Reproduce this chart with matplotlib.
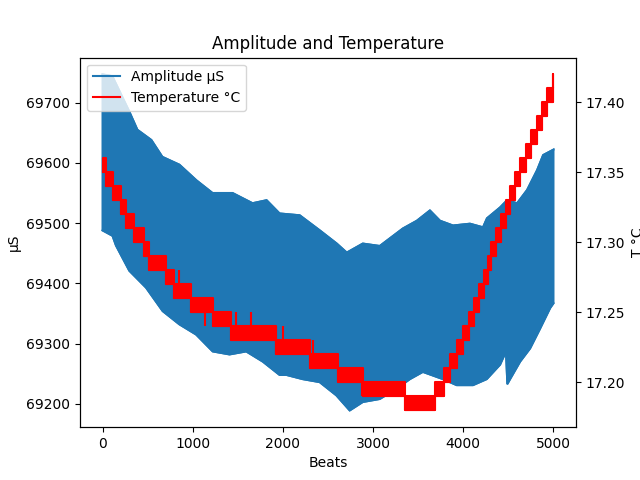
import matplotlib.pyplot as plt

# amplitude band: upper and lower edge
amp_top_beats = [0, 108, 297, 386, 541, 663, 852, 1041, 1219, 1441, 1663, 1819, 1963, 2186,
                 2408, 2597, 2708, 2886, 3074, 3330, 3486, 3630, 3741, 3886, 4074, 4219,
                 4263, 4408, 4486, 4597, 4708, 4819, 4886, 5000]
amp_top = [69747, 69744, 69685, 69655, 69638, 69610, 69597, 69571, 69550, 69550, 69533, 69538,
           69516, 69513, 69488, 69466, 69451, 69466, 69462, 69491, 69504, 69521, 69504, 69496,
           69499, 69493, 69508, 69526, 69538, 69533, 69555, 69588, 69613, 69622]
amp_bot_beats = [0, 111, 149, 297, 482, 667, 852, 1038, 1222, 1408, 1593, 1778, 1963, 2038,
                 2219, 2408, 2593, 2741, 2886, 3074, 3260, 3408, 3552, 3774, 3927, 4108, 4260,
                 4408, 4474, 4489, 4519, 4630, 4741, 4852, 4963, 5000]
amp_bot = [69488, 69479, 69463, 69421, 69393, 69354, 69332, 69315, 69287, 69282, 69287, 69270,
           69248, 69248, 69241, 69236, 69214, 69189, 69203, 69208, 69225, 69241, 69253, 69241,
           69231, 69231, 69241, 69265, 69287, 69233, 69241, 69270, 69292, 69325, 69359, 69367]

# temperature: the sensor flips between two adjacent levels inside each block
temp_start = [0, 38, 119, 204, 260, 352, 463, 519, 704, 797, 982, 1222, 1427, 1927, 2297, 2611,
              2889, 3352, 3686, 3786, 3852, 3930, 4000, 4063, 4119, 4174, 4230, 4274, 4308,
              4363, 4419, 4474, 4519, 4574, 4630, 4697, 4752, 4819, 4874, 4930, 4991, 5000]
temp_lo = [17.35, 17.34, 17.33, 17.32, 17.31, 17.30, 17.29, 17.28, 17.27, 17.26, 17.25, 17.24,
           17.23, 17.22, 17.21, 17.20, 17.19, 17.18, 17.19, 17.20, 17.21, 17.22, 17.23, 17.24,
           17.25, 17.26, 17.27, 17.28, 17.29, 17.30, 17.31, 17.32, 17.33, 17.34, 17.35, 17.36,
           17.37, 17.38, 17.39, 17.40, 17.41, 17.41]
temp_hi = [17.36, 17.35, 17.34, 17.33, 17.32, 17.31, 17.30, 17.29, 17.28, 17.27, 17.26, 17.25,
           17.24, 17.23, 17.22, 17.21, 17.20, 17.19, 17.20, 17.21, 17.22, 17.23, 17.24, 17.25,
           17.26, 17.27, 17.28, 17.29, 17.30, 17.31, 17.32, 17.33, 17.34, 17.35, 17.36, 17.37,
           17.38, 17.39, 17.40, 17.41, 17.42, 17.42]

# single outlier readings
spike_beats = [852, 1141, 1482, 1649, 1927, 2000, 2330, 2880]
spike_lo = [17.26, 17.24, 17.23, 17.23, 17.22, 17.22, 17.21, 17.19]
spike_hi = [17.28, 17.26, 17.25, 17.25, 17.24, 17.24, 17.23, 17.21]

fig, ax1 = plt.subplots()
ax1.fill(amp_top_beats + amp_bot_beats[::-1], amp_top + amp_bot[::-1],
         color='tab:blue', lw=1.5)
ax1.plot(amp_top_beats, amp_top, color='tab:blue', label='Amplitude µS')
ax1.plot(amp_bot_beats, amp_bot, color='tab:blue')
ax1.set_xlabel('Beats')
ax1.set_ylabel('µS')

ax2 = ax1.twinx()
ax2.fill_between(temp_start, temp_lo, temp_hi, step='post', color='red', lw=1.5)
ax2.plot(temp_start, temp_lo, color='red', drawstyle='steps-post', label='Temperature °C')
ax2.vlines(spike_beats, spike_lo, spike_hi, color='red', lw=1.5)
ax2.set_ylabel('T °C')

h1, l1 = ax1.get_legend_handles_labels()
h2, l2 = ax2.get_legend_handles_labels()
ax2.legend(h1 + h2, l1 + l2, loc='upper left')
plt.title('Amplitude and Temperature')
plt.savefig('out.png')
